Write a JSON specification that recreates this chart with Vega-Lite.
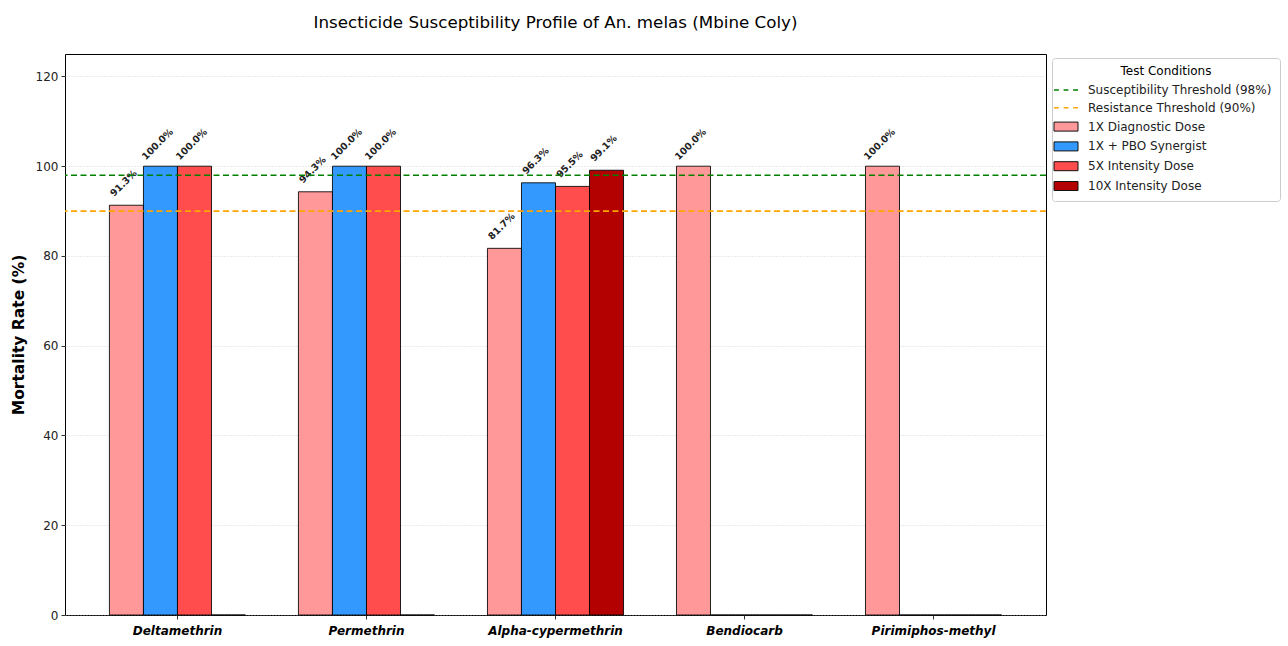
{
  "$schema": "https://vega.github.io/schema/vega-lite/v6.json",
  "width": 981,
  "height": 561,
  "autosize": {"type": "none"},
  "padding": {"left": 65, "top": 54, "right": 242, "bottom": 31},
  "background": "white",
  "title": {
    "text": "Insecticide Susceptibility Profile of An. melas (Mbine Coly)",
    "anchor": "middle",
    "fontSize": 16.7,
    "fontWeight": "normal",
    "font": "DejaVu Sans",
    "color": "black",
    "offset": 22
  },
  "config": {
    "font": "DejaVu Sans",
    "view": {"stroke": "black", "strokeWidth": 1},
    "axis": {
      "labelColor": "#222",
      "tickColor": "#333",
      "titleColor": "black",
      "labelFont": "DejaVu Sans",
      "titleFont": "DejaVu Sans"
    }
  },
  "datasets": {
    "rates": [
      {"insecticide": "Deltamethrin", "condition": "1X Diagnostic Dose", "mortality": 91.3},
      {"insecticide": "Deltamethrin", "condition": "1X + PBO Synergist", "mortality": 100.0},
      {"insecticide": "Deltamethrin", "condition": "5X Intensity Dose", "mortality": 100.0},
      {"insecticide": "Deltamethrin", "condition": "10X Intensity Dose", "mortality": 0},
      {"insecticide": "Permethrin", "condition": "1X Diagnostic Dose", "mortality": 94.3},
      {"insecticide": "Permethrin", "condition": "1X + PBO Synergist", "mortality": 100.0},
      {"insecticide": "Permethrin", "condition": "5X Intensity Dose", "mortality": 100.0},
      {"insecticide": "Permethrin", "condition": "10X Intensity Dose", "mortality": 0},
      {"insecticide": "Alpha-cypermethrin", "condition": "1X Diagnostic Dose", "mortality": 81.7},
      {"insecticide": "Alpha-cypermethrin", "condition": "1X + PBO Synergist", "mortality": 96.3},
      {"insecticide": "Alpha-cypermethrin", "condition": "5X Intensity Dose", "mortality": 95.5},
      {"insecticide": "Alpha-cypermethrin", "condition": "10X Intensity Dose", "mortality": 99.1},
      {"insecticide": "Bendiocarb", "condition": "1X Diagnostic Dose", "mortality": 100.0},
      {"insecticide": "Bendiocarb", "condition": "1X + PBO Synergist", "mortality": 0},
      {"insecticide": "Bendiocarb", "condition": "5X Intensity Dose", "mortality": 0},
      {"insecticide": "Bendiocarb", "condition": "10X Intensity Dose", "mortality": 0},
      {"insecticide": "Pirimiphos-methyl", "condition": "1X Diagnostic Dose", "mortality": 100.0},
      {"insecticide": "Pirimiphos-methyl", "condition": "1X + PBO Synergist", "mortality": 0},
      {"insecticide": "Pirimiphos-methyl", "condition": "5X Intensity Dose", "mortality": 0},
      {"insecticide": "Pirimiphos-methyl", "condition": "10X Intensity Dose", "mortality": 0}
    ],
    "thresholds": [
      {"condition": "Susceptibility Threshold (98%)", "mortality": 98},
      {"condition": "Resistance Threshold (90%)", "mortality": 90}
    ]
  },
  "encoding": {
    "y": {
      "field": "mortality",
      "type": "quantitative",
      "scale": {"domain": [0, 125], "nice": false, "zero": true},
      "axis": {
        "title": "Mortality Rate (%)",
        "values": [0, 20, 40, 60, 80, 100, 120],
        "labelFontSize": 12,
        "labelPadding": 3,
        "tickSize": 4,
        "domain": false,
        "titleFontSize": 15.5,
        "titleFontWeight": "bold",
        "titlePadding": 9,
        "grid": true,
        "gridColor": "#bbbbbb",
        "gridOpacity": 0.6,
        "gridDash": [1, 2]
      }
    },
    "color": {
      "field": "condition",
      "type": "nominal",
      "scale": {
        "domain": [
          "Susceptibility Threshold (98%)",
          "Resistance Threshold (90%)",
          "1X Diagnostic Dose",
          "1X + PBO Synergist",
          "5X Intensity Dose",
          "10X Intensity Dose"
        ],
        "range": ["#008000", "#ffa500", "#ff9999", "#3399ff", "#ff4d4d", "#b30000"]
      },
      "legend": {
        "title": "Test Conditions",
        "orient": "none",
        "legendX": 987,
        "legendY": 4,
        "padding": 8,
        "strokeColor": "#cccccc",
        "fillColor": "white",
        "cornerRadius": 3,
        "titleAnchor": "middle",
        "titleFontWeight": "normal",
        "titleFontSize": 12,
        "titleColor": "black",
        "titlePadding": 6,
        "labelFontSize": 12,
        "labelColor": "#222",
        "labelLimit": 400,
        "labelOffset": 16,
        "symbolSize": 225,
        "symbolType": "square",
        "rowPadding": 5.8,
        "encode": {
          "symbols": {
            "update": {
              "shape": {"signal": "test(/Threshold/, datum.value) ? 'M-1.6,0H-0.95M-0.32,0H0.32M0.95,0H1.6' : 'M-1.6,-0.6H1.6V0.6H-1.6Z'"},
              "stroke": {"signal": "test(/Threshold/, datum.value) ? scale('color', datum.value) : '#111111'"},
              "strokeWidth": {"signal": "test(/Threshold/, datum.value) ? 1.6 : 1"},
              "strokeOpacity": {"value": 1},
              "opacity": {"value": 1}
            }
          }
        }
      }
    }
  },
  "layer": [
    {
      "data": {"name": "rates"},
      "mark": {"type": "bar", "stroke": "black", "strokeWidth": 1, "strokeOpacity": 0.85},
      "encoding": {
        "x": {
          "field": "insecticide",
          "type": "nominal",
          "sort": ["Deltamethrin", "Permethrin", "Alpha-cypermethrin", "Bendiocarb", "Pirimiphos-methyl"],
          "scale": {"paddingInner": 0.28, "paddingOuter": 0.235},
          "axis": {
            "title": null,
            "labelAngle": 0,
            "labelFontSize": 12,
            "labelFontWeight": "bold",
            "labelFontStyle": "italic",
            "labelColor": "black",
            "labelPadding": 6,
            "tickSize": 4,
            "domain": false,
            "grid": false
          }
        },
        "xOffset": {
          "field": "condition",
          "type": "nominal",
          "scale": {
            "domain": ["1X Diagnostic Dose", "1X + PBO Synergist", "5X Intensity Dose", "10X Intensity Dose"],
            "paddingInner": 0,
            "paddingOuter": 0
          }
        }
      }
    },
    {
      "data": {"name": "rates"},
      "transform": [
        {"filter": "datum.mortality > 0"},
        {"calculate": "format(datum.mortality, '.1f') + '%'", "as": "label"}
      ],
      "mark": {
        "type": "text",
        "angle": 315,
        "align": "center",
        "baseline": "middle",
        "dx": 13.5,
        "dy": -17.5,
        "fontSize": 9.5,
        "fontWeight": "bold"
      },
      "encoding": {
        "x": {
          "field": "insecticide",
          "type": "nominal",
          "sort": ["Deltamethrin", "Permethrin", "Alpha-cypermethrin", "Bendiocarb", "Pirimiphos-methyl"]
        },
        "xOffset": {
          "field": "condition",
          "type": "nominal",
          "scale": {
            "domain": ["1X Diagnostic Dose", "1X + PBO Synergist", "5X Intensity Dose", "10X Intensity Dose"]
          }
        },
        "color": {"value": "#222222"},
        "text": {"field": "label", "type": "nominal"}
      }
    },
    {
      "data": {"name": "thresholds"},
      "mark": {"type": "text", "text": ""},
      "encoding": {}
    },
    {
      "data": {"name": "thresholds"},
      "mark": {"type": "rule", "strokeDash": [6, 3.5], "strokeWidth": 1.6},
      "encoding": {
        "color": {"value": "black"},
        "stroke": {
          "field": "condition",
          "type": "nominal",
          "scale": {
            "domain": ["Susceptibility Threshold (98%)", "Resistance Threshold (90%)"],
            "range": ["#008000", "#ffa500"]
          },
          "legend": null
        }
      }
    }
  ]
}
